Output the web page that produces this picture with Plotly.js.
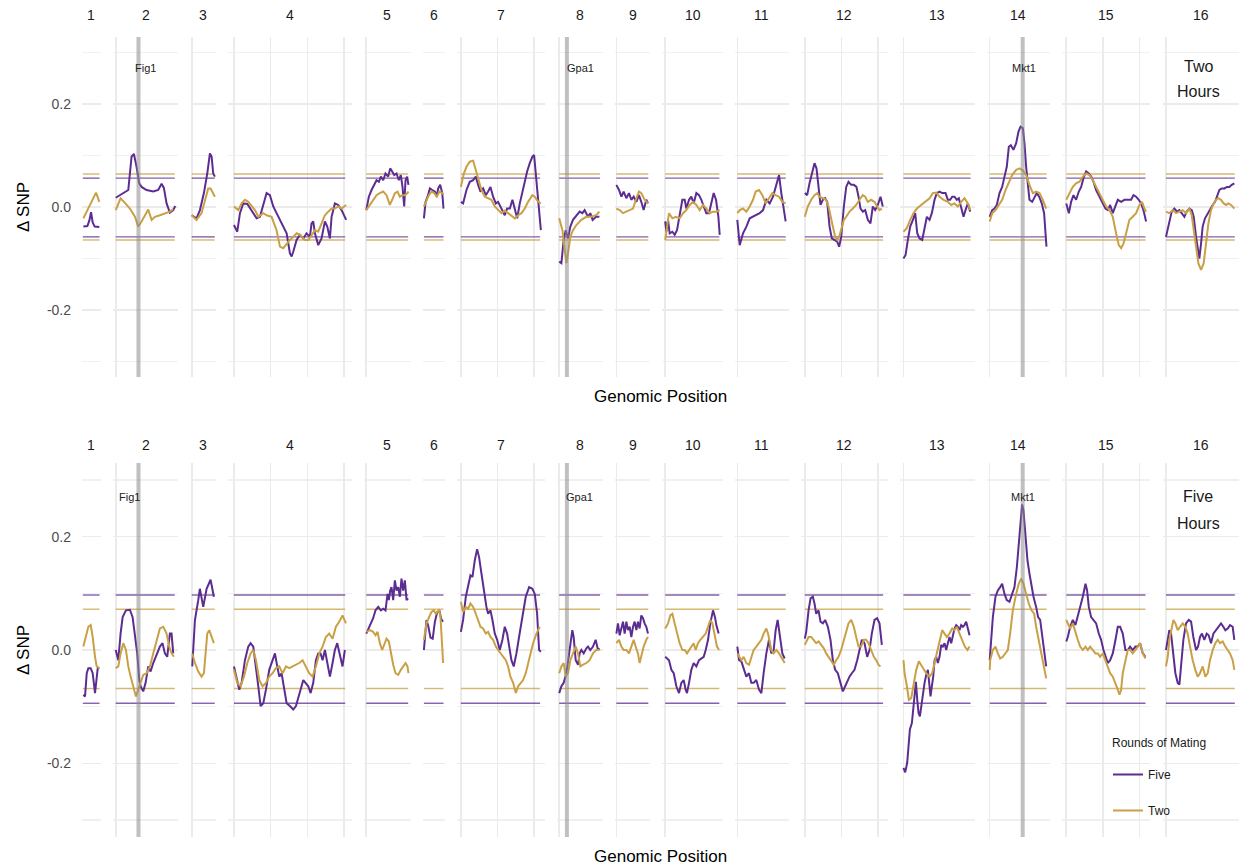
<!DOCTYPE html>
<html><head><meta charset="utf-8">
<script src="https://cdn.plot.ly/plotly-3.0.1.min.js"></script>
<style>html,body{margin:0;padding:0;background:#fff}#chart{width:1239px;height:867px}</style>
</head><body><div id="chart"></div>
<script>
// ---------------- DATA ----------------
const CHROMS = ["1","2","3","4","5","6","7","8","9","10","11","12","13","14","15","16"];
const CHROM_LEN_MB = [0.230,0.813,0.317,1.532,0.577,0.270,1.091,0.563,0.440,0.746,0.667,1.078,0.924,0.784,1.091,0.948];
const ROW_NAMES = [["Two","Hours"],["Five","Hours"]];
const SERIES_NAMES = ["Five","Two"];
const LEGEND_TITLE = "Rounds of Mating";
const GENES = ["Fig1","Gpa1","Mkt1"];
const GENE_CHROM = [2,8,14];
const GENE_POS_MB = [0.31,0.105,0.45];
const Y_TICKS = [-0.2,0,0.2];
const Y_TICK_TEXT = ["-0.2","0.0","0.2"];
// significance thresholds [upper, lower]
const THR_2H_FIVE = [0.056,-0.058];
const THR_2H_TWO  = [0.064,-0.064];
const THR_5H_FIVE = [0.097,-0.094];
const THR_5H_TWO  = [0.072,-0.068];

// Two hours, Five rounds
const H2_FIVE_POS = [
[0.007,0.062,0.089,0.112,0.134,0.162,0.225],
[0,0.103,0.171,0.216,0.248,0.284,0.32,0.352,0.42,0.511,0.579,0.625,0.656,0.693,0.738,0.784,0.811],
[0,0.066,0.112,0.166,0.212,0.248,0.271,0.293,0.316],
[0,0.045,0.082,0.127,0.182,0.241,0.309,0.354,0.4,0.445,0.49,0.536,0.581,0.627,0.672,0.718,0.763,0.786,0.808,0.854,0.899,0.945,0.99,1.035,1.058,1.081,1.104,1.149,1.194,1.24,1.272,1.308,1.331,1.376,1.421,1.467,1.53],
[0,0.035,0.072,0.108,0.14,0.172,0.199,0.231,0.262,0.299,0.326,0.353,0.381,0.412,0.444,0.471,0.494,0.517,0.535,0.557,0.575],
[0,0.023,0.05,0.082,0.114,0.15,0.173,0.195,0.222,0.25,0.268],
[0,0.03,0.076,0.121,0.167,0.203,0.235,0.267,0.303,0.339,0.371,0.403,0.439,0.476,0.507,0.553,0.598,0.63,0.667,0.703,0.735,0.767,0.803,0.839,0.871,0.903,0.939,0.975,0.998,1.021,1.053,1.09],
[0,0.03,0.061,0.089,0.12,0.152,0.188,0.234,0.279,0.316,0.347,0.393,0.424,0.456,0.502,0.548],
[0,0.036,0.068,0.099,0.136,0.172,0.204,0.236,0.272,0.308,0.34,0.372,0.408,0.431],
[0,0.016,0.039,0.061,0.098,0.129,0.161,0.198,0.234,0.266,0.288,0.325,0.356,0.388,0.425,0.461,0.493,0.525,0.561,0.597,0.629,0.661,0.693,0.725,0.743],
[0,0.033,0.078,0.124,0.169,0.214,0.26,0.305,0.351,0.396,0.441,0.487,0.532,0.569,0.6,0.632,0.659],
[0,0.032,0.064,0.096,0.132,0.159,0.187,0.214,0.246,0.277,0.305,0.337,0.368,0.405,0.441,0.468,0.496,0.532,0.564,0.595,0.632,0.668,0.704,0.732,0.759,0.791,0.823,0.859,0.895,0.927,0.959,0.995,1.032,1.063],
[0,0.029,0.06,0.092,0.129,0.16,0.188,0.219,0.256,0.287,0.319,0.356,0.387,0.424,0.455,0.492,0.528,0.574,0.605,0.637,0.665,0.696,0.728,0.755,0.787,0.819,0.846,0.878,0.91],
[0,0.034,0.065,0.097,0.134,0.17,0.202,0.233,0.261,0.288,0.324,0.361,0.392,0.42,0.452,0.474,0.497,0.52,0.542,0.579,0.61,0.642,0.674,0.71,0.742,0.774],
[0,0.035,0.066,0.098,0.134,0.171,0.203,0.234,0.271,0.307,0.339,0.371,0.407,0.452,0.498,0.534,0.566,0.598,0.634,0.671,0.702,0.748,0.793,0.838,0.884,0.916,0.952,0.988,1.02,1.052,1.088],
[0,0.046,0.078,0.114,0.151,0.183,0.214,0.251,0.282,0.319,0.351,0.378,0.41,0.432,0.455,0.478,0.5,0.532,0.569,0.605,0.637,0.669,0.696,0.728,0.76,0.796,0.832,0.864,0.896,0.932]
];
const H2_FIVE_VAL = [
[-0.038,-0.037,-0.026,-0.010,-0.030,-0.038,-0.039],
[0.018,0.028,0.033,0.098,0.103,0.078,0.046,0.039,0.033,0.030,0.033,0.045,0.037,0.007,-0.011,-0.006,0.002],
[-0.016,-0.022,-0.006,0.027,0.065,0.104,0.098,0.065,0.059],
[-0.035,-0.048,-0.012,0.007,0.006,-0.006,-0.022,-0.019,0.007,0.027,0.023,0.001,-0.012,-0.025,-0.038,-0.051,-0.090,-0.096,-0.087,-0.064,-0.054,-0.061,-0.051,-0.058,-0.032,-0.028,-0.051,-0.074,-0.061,-0.028,-0.038,-0.061,-0.019,0.007,0.004,-0.006,-0.025],
[-0.006,0.020,0.033,0.043,0.052,0.049,0.059,0.052,0.065,0.059,0.075,0.069,0.062,0.065,0.052,0.062,0.039,0.001,0.052,0.059,0.043],
[-0.022,0.010,0.020,0.036,0.033,0.030,0.020,0.036,0.043,0.027,-0.003],
[0.010,0.007,0.033,0.049,0.052,0.059,0.043,0.030,0.036,0.023,0.030,0.039,0.020,0.007,0.010,-0.003,-0.016,-0.003,-0.003,0.014,-0.003,-0.022,0.007,0.030,0.052,0.069,0.085,0.098,0.101,0.065,0.014,-0.045],
[-0.106,-0.109,-0.064,-0.045,-0.061,-0.038,-0.025,-0.017,-0.009,-0.012,-0.006,-0.019,-0.012,-0.025,-0.019,-0.019],
[0.043,0.033,0.020,0.030,0.017,0.027,0.014,0.020,0.010,0.023,0.010,-0.006,0.014,0.007],
[-0.028,-0.048,-0.025,-0.051,-0.048,-0.054,-0.045,-0.012,0.014,0.014,-0.003,0.014,0.020,0.007,0.027,0.023,0.014,0.001,-0.012,-0.012,0.010,0.027,0.014,-0.019,-0.054],
[-0.025,-0.074,-0.051,-0.038,-0.022,-0.019,-0.016,-0.012,-0.006,0.014,0.007,0.020,0.043,0.062,0.027,0.001,-0.028],
[0.027,0.023,0.046,0.065,0.085,0.075,0.033,0.004,0.014,0.017,0.010,-0.038,-0.061,-0.064,-0.067,-0.077,-0.058,0.001,0.039,0.049,0.043,0.043,0.039,0.020,-0.003,-0.009,-0.006,-0.025,-0.032,0.001,-0.006,0.004,0.020,0.001],
[-0.100,-0.093,-0.064,-0.038,-0.025,-0.012,-0.051,-0.061,-0.064,-0.038,-0.019,-0.025,-0.012,0.014,0.027,0.030,0.027,0.027,0.014,0.014,0.020,0.020,0.014,0.017,-0.003,-0.019,-0.006,0.007,-0.009],
[-0.019,-0.006,-0.003,0.004,0.027,0.039,0.059,0.078,0.117,0.120,0.111,0.124,0.146,0.156,0.153,0.124,0.078,0.039,0.014,0.010,0.020,0.027,0.020,0.007,-0.012,-0.077],
[0.007,-0.012,0.010,0.023,0.014,0.030,0.039,0.056,0.069,0.065,0.059,0.049,0.033,0.020,0.007,-0.003,-0.006,0.004,-0.012,0.004,0.014,0.010,0.014,0.014,0.014,0.023,0.020,0.014,0.007,-0.006,-0.028],
[-0.058,-0.032,-0.009,-0.003,-0.009,-0.006,-0.012,-0.019,-0.009,-0.003,-0.006,-0.019,-0.058,-0.084,-0.100,-0.071,-0.038,-0.022,-0.012,-0.003,0.004,0.010,0.020,0.033,0.036,0.036,0.039,0.039,0.043,0.046]
];

// Two hours, Two rounds
const H2_TWO_POS = [
[0.007,0.062,0.121,0.18,0.225],
[0,0.066,0.125,0.193,0.262,0.307,0.352,0.398,0.443,0.489,0.534,0.602,0.67,0.738,0.784],
[0,0.066,0.134,0.18,0.225,0.257,0.293,0.316],
[0,0.059,0.104,0.15,0.195,0.241,0.286,0.332,0.4,0.445,0.513,0.581,0.627,0.672,0.718,0.763,0.808,0.854,0.899,0.967,1.013,1.058,1.104,1.149,1.194,1.24,1.285,1.331,1.376,1.421,1.467,1.53],
[0,0.049,0.095,0.14,0.185,0.231,0.276,0.321,0.353,0.39,0.426,0.458,0.49,0.526,0.562,0.575],
[0,0.036,0.068,0.104,0.14,0.177,0.213,0.25,0.268],
[0,0.04,0.076,0.121,0.167,0.203,0.235,0.28,0.326,0.371,0.416,0.462,0.507,0.553,0.598,0.644,0.689,0.735,0.78,0.825,0.871,0.916,0.975,1.007,1.053,1.09],
[0,0.044,0.075,0.098,0.12,0.152,0.188,0.234,0.302,0.37,0.438,0.502,0.548],
[0,0.045,0.09,0.136,0.181,0.227,0.272,0.308,0.34,0.385,0.431],
[0,0.016,0.052,0.098,0.143,0.197,0.243,0.288,0.334,0.379,0.425,0.47,0.515,0.561,0.606,0.652,0.697,0.743],
[0,0.033,0.078,0.124,0.169,0.214,0.251,0.296,0.342,0.387,0.432,0.478,0.523,0.569,0.614,0.659],
[0,0.041,0.087,0.132,0.168,0.2,0.246,0.291,0.323,0.35,0.382,0.414,0.441,0.468,0.496,0.532,0.564,0.609,0.654,0.7,0.745,0.79,0.823,0.859,0.904,0.95,0.986,1.018,1.05],
[0,0.046,0.092,0.137,0.183,0.242,0.301,0.356,0.401,0.447,0.492,0.547,0.605,0.651,0.696,0.742,0.787,0.833,0.878,0.91],
[0,0.034,0.08,0.125,0.17,0.216,0.261,0.306,0.361,0.406,0.452,0.497,0.542,0.588,0.633,0.679,0.724,0.77],
[0,0.044,0.089,0.134,0.18,0.225,0.271,0.316,0.362,0.407,0.452,0.498,0.543,0.589,0.634,0.679,0.716,0.748,0.779,0.816,0.861,0.906,0.952,0.997,1.033,1.065,1.088],
[0,0.046,0.092,0.137,0.183,0.228,0.273,0.319,0.351,0.378,0.41,0.441,0.478,0.514,0.546,0.578,0.614,0.65,0.682,0.714,0.75,0.787,0.819,0.85,0.887,0.932]
];
const H2_TWO_VAL = [
[-0.022,-0.006,0.014,0.028,0.010],
[-0.006,0.017,0.008,-0.003,-0.019,-0.038,-0.028,-0.016,-0.005,-0.025,-0.019,-0.016,-0.012,-0.009,-0.004],
[-0.016,-0.025,-0.012,0.014,0.036,0.036,0.027,0.020],
[0.001,-0.006,0.007,0.014,0.010,0.001,-0.006,-0.019,-0.012,-0.016,-0.019,-0.045,-0.077,-0.080,-0.071,-0.064,-0.058,-0.051,-0.054,-0.064,-0.064,-0.054,-0.045,-0.048,-0.032,-0.016,-0.009,-0.003,-0.003,0.001,-0.003,0.004],
[-0.006,0.004,0.014,0.023,0.027,0.030,0.023,0.004,0.014,0.027,0.030,0.020,0.023,0.023,0.027,0.030],
[0.001,0.014,0.023,0.030,0.027,0.020,0.030,0.027,0.025],
[0.039,0.065,0.078,0.088,0.090,0.072,0.056,0.033,0.020,0.017,0.014,0.001,-0.006,-0.012,-0.007,-0.012,-0.016,-0.022,-0.016,-0.012,-0.003,0.010,0.023,0.020,0.010,0.007],
[-0.022,-0.045,-0.083,-0.109,-0.090,-0.058,-0.045,-0.035,-0.025,-0.019,-0.019,-0.016,-0.009],
[-0.003,-0.006,-0.012,-0.009,-0.006,-0.003,0.017,0.030,0.027,0.014,0.007],
[-0.064,-0.045,-0.012,-0.022,-0.019,-0.022,-0.012,-0.006,0.004,0.010,0.004,-0.006,0.004,-0.003,-0.012,-0.009,-0.009,-0.006],
[-0.012,-0.006,-0.003,-0.009,0.001,0.014,0.030,0.033,0.023,0.007,0.017,0.027,0.023,0.020,0.010,0.007],
[-0.019,0.001,0.014,0.023,0.027,0.020,0.017,0.014,0.001,-0.019,-0.038,-0.058,-0.064,-0.058,-0.041,-0.025,-0.019,-0.009,-0.003,0.004,0.014,0.023,0.020,0.010,0.014,0.010,0.001,-0.006,-0.003],
[-0.048,-0.041,-0.025,-0.012,-0.003,0.004,0.010,0.017,0.027,0.028,0.020,0.014,0.010,0.004,0.007,0.001,0.010,0.017,0.007,-0.006],
[-0.028,-0.012,-0.006,0.004,0.014,0.033,0.049,0.062,0.072,0.075,0.071,0.062,0.043,0.027,0.030,0.027,0.014,-0.003],
[0.014,0.027,0.039,0.046,0.049,0.059,0.065,0.062,0.052,0.039,0.027,0.014,0.001,-0.006,-0.019,-0.051,-0.074,-0.080,-0.071,-0.051,-0.025,-0.019,-0.012,0.004,0.010,-0.003,-0.009],
[-0.009,-0.012,-0.006,-0.012,-0.009,-0.006,-0.012,-0.003,-0.016,-0.045,-0.084,-0.109,-0.122,-0.109,-0.071,-0.032,-0.006,0.007,0.014,0.017,0.014,0.007,0.004,0.007,0.004,-0.003]
];

// Five hours, Five rounds
const H5_FIVE_POS = [
[0.007,0.03,0.053,0.075,0.107,0.134,0.166,0.189,0.203,0.225],
[0,0.035,0.066,0.094,0.139,0.193,0.23,0.262,0.293,0.321,0.339,0.375,0.407,0.443,0.475,0.511,0.556,0.602,0.638,0.67,0.702,0.738,0.761,0.784],
[0.007,0.044,0.089,0.111,0.157,0.203,0.257,0.302],
[0,0.036,0.073,0.104,0.15,0.195,0.227,0.263,0.3,0.332,0.363,0.4,0.436,0.481,0.527,0.559,0.59,0.618,0.649,0.681,0.718,0.763,0.808,0.845,0.876,0.908,0.945,0.981,1.013,1.045,1.081,1.117,1.149,1.181,1.208,1.24,1.272,1.308,1.344,1.376,1.408,1.444,1.48,1.512],
[0,0.035,0.063,0.094,0.126,0.163,0.199,0.231,0.262,0.29,0.308,0.326,0.344,0.367,0.39,0.412,0.435,0.458,0.48,0.503,0.526,0.549,0.571],
[0,0.02,0.035,0.06,0.09,0.12,0.15,0.18,0.21,0.235,0.26],
[0,0.03,0.067,0.099,0.13,0.158,0.189,0.221,0.248,0.28,0.312,0.348,0.371,0.403,0.43,0.462,0.494,0.53,0.566,0.598,0.63,0.657,0.689,0.72,0.757,0.793,0.839,0.884,0.93,0.975,1.007,1.039,1.066,1.09],
[0,0.03,0.061,0.098,0.129,0.152,0.179,0.197,0.225,0.257,0.279,0.302,0.334,0.37,0.393,0.424,0.461,0.497,0.529,0.55],
[0,0.022,0.045,0.068,0.09,0.113,0.136,0.158,0.181,0.204,0.227,0.249,0.272,0.294,0.317,0.34,0.363,0.385,0.408,0.431],
[0,0.025,0.052,0.084,0.116,0.152,0.188,0.22,0.252,0.279,0.297,0.325,0.356,0.388,0.425,0.461,0.493,0.525,0.552,0.584,0.615,0.652,0.679,0.697,0.729],
[0,0.024,0.055,0.087,0.123,0.16,0.191,0.223,0.259,0.296,0.328,0.359,0.396,0.432,0.464,0.496,0.523,0.55,0.577,0.614,0.646],
[0,0.019,0.051,0.078,0.109,0.132,0.155,0.187,0.214,0.246,0.277,0.314,0.35,0.382,0.414,0.45,0.486,0.518,0.55,0.577,0.609,0.641,0.677,0.714,0.745,0.777,0.814,0.85,0.882,0.913,0.95,0.986,1.018,1.05],
[0,0.006,0.024,0.051,0.069,0.088,0.115,0.133,0.151,0.17,0.188,0.206,0.224,0.242,0.265,0.288,0.31,0.333,0.351,0.369,0.387,0.406,0.424,0.447,0.469,0.492,0.515,0.537,0.56,0.583,0.605,0.628,0.651,0.674,0.696,0.719,0.742,0.764,0.787,0.81,0.832,0.855,0.878,0.901],
[0,0.01,0.02,0.043,0.079,0.111,0.143,0.17,0.202,0.233,0.27,0.306,0.338,0.37,0.397,0.424,0.442,0.461,0.488,0.515,0.542,0.57,0.597,0.633,0.66,0.688,0.715,0.747,0.77],
[0,0.021,0.053,0.089,0.125,0.157,0.189,0.225,0.262,0.284,0.307,0.339,0.371,0.407,0.443,0.475,0.507,0.534,0.566,0.598,0.634,0.671,0.702,0.734,0.77,0.806,0.838,0.87,0.906,0.943,0.974,1.006,1.043,1.079],
[0,0.024,0.046,0.069,0.101,0.128,0.16,0.183,0.205,0.237,0.273,0.31,0.342,0.373,0.41,0.437,0.464,0.491,0.523,0.555,0.582,0.614,0.646,0.682,0.718,0.75,0.782,0.809,0.841,0.873,0.909,0.932]
];
const H5_FIVE_VAL = [
[-0.079,-0.082,-0.041,-0.032,-0.032,-0.041,-0.076,-0.053,-0.032,-0.032],
[0.0,-0.018,0.029,0.058,0.070,0.071,0.058,0.029,-0.006,-0.053,-0.064,-0.073,-0.058,-0.029,-0.038,-0.023,-0.009,0.006,0.012,-0.006,-0.012,0.029,0.029,-0.006],
[-0.029,0.053,0.088,0.108,0.076,0.108,0.124,0.094],
[-0.029,-0.047,-0.070,-0.058,-0.018,0.006,0.012,0.006,-0.029,-0.064,-0.099,-0.094,-0.070,-0.035,-0.018,-0.006,-0.029,-0.047,-0.041,-0.064,-0.094,-0.099,-0.105,-0.099,-0.082,-0.070,-0.053,-0.058,-0.064,-0.076,-0.058,-0.018,-0.006,-0.006,-0.018,0.0,-0.023,-0.047,-0.023,0.0,0.012,-0.006,-0.029,0.0],
[0.029,0.038,0.047,0.056,0.070,0.076,0.070,0.073,0.070,0.099,0.088,0.105,0.111,0.088,0.123,0.105,0.111,0.094,0.126,0.105,0.123,0.088,0.091],
[0.0,0.030,0.053,0.042,0.022,0.020,0.050,0.066,0.070,0.055,0.050],
[0.032,0.053,0.094,0.117,0.132,0.129,0.158,0.178,0.164,0.135,0.105,0.076,0.064,0.070,0.053,0.029,0.018,0.0,0.018,0.041,0.029,0.006,-0.018,-0.029,-0.006,0.023,0.058,0.094,0.111,0.108,0.099,0.064,0.0,-0.003],
[-0.076,-0.064,-0.058,-0.041,-0.012,0.006,0.035,0.023,-0.018,-0.026,-0.006,0.0,-0.006,0.003,0.006,0.0,0.006,0.018,0.0,0.003],
[0.029,0.047,0.026,0.038,0.050,0.029,0.050,0.035,0.041,0.023,0.041,0.050,0.035,0.050,0.038,0.061,0.056,0.047,0.041,0.029],
[-0.012,-0.015,-0.018,-0.035,-0.041,-0.064,-0.076,-0.058,-0.053,-0.070,-0.076,-0.058,-0.035,-0.023,-0.029,-0.018,-0.015,-0.012,0.0,0.018,0.047,0.070,0.058,0.044,0.029],
[0.006,-0.018,-0.020,-0.032,-0.047,-0.041,-0.058,-0.058,-0.053,-0.070,-0.076,-0.041,-0.006,0.018,-0.006,0.0,0.035,0.053,0.029,-0.006,-0.015],
[0.020,0.032,0.070,0.091,0.094,0.082,0.064,0.070,0.050,0.047,0.053,0.041,0.018,-0.018,-0.035,-0.041,-0.058,-0.073,-0.064,-0.056,-0.047,-0.041,-0.035,-0.018,0.0,0.018,0.012,-0.012,0.0,0.029,0.053,0.056,0.047,0.009],
[-0.208,-0.211,-0.216,-0.199,-0.170,-0.140,-0.129,-0.105,-0.070,-0.056,-0.088,-0.111,-0.117,-0.099,-0.076,-0.058,-0.044,-0.035,-0.058,-0.082,-0.064,-0.047,-0.018,-0.012,-0.023,-0.012,0.009,0.006,0.012,0.0,0.012,0.023,0.012,0.029,0.038,0.044,0.041,0.035,0.044,0.041,0.044,0.050,0.038,0.026],
[-0.018,0.0,0.029,0.058,0.094,0.105,0.111,0.117,0.099,0.088,0.085,0.099,0.111,0.146,0.193,0.234,0.257,0.246,0.205,0.158,0.135,0.111,0.094,0.076,0.058,0.053,0.023,-0.006,-0.029],
[0.015,0.023,0.041,0.053,0.044,0.058,0.076,0.094,0.117,0.105,0.076,0.058,0.053,0.047,0.029,0.018,0.0,-0.012,-0.023,-0.018,-0.006,0.018,0.041,0.041,0.029,0.0,0.0,0.006,0.0,0.006,0.006,0.012,-0.006,-0.012],
[0.0,0.018,0.035,0.029,-0.006,-0.041,-0.058,-0.061,-0.029,0.018,0.047,0.053,0.050,0.023,0.0,0.006,0.023,0.029,0.018,0.029,0.026,0.012,0.029,0.035,0.041,0.047,0.041,0.035,0.038,0.044,0.041,0.018]
];

// Five hours, Two rounds
const H5_TWO_POS = [
[0.007,0.044,0.075,0.107,0.134,0.166,0.189,0.225],
[0,0.035,0.066,0.103,0.139,0.171,0.203,0.239,0.275,0.307,0.339,0.375,0.421,0.466,0.511,0.557,0.602,0.648,0.693,0.729,0.761,0.793],
[0.007,0.044,0.089,0.134,0.166,0.193,0.212,0.239,0.271,0.302],
[0,0.045,0.091,0.136,0.182,0.227,0.263,0.3,0.345,0.39,0.436,0.481,0.527,0.572,0.618,0.663,0.709,0.754,0.799,0.845,0.89,0.936,0.981,1.026,1.072,1.117,1.163,1.208,1.253,1.299,1.344,1.39,1.435,1.48,1.526],
[0,0.049,0.094,0.126,0.154,0.185,0.217,0.244,0.276,0.308,0.335,0.367,0.399,0.435,0.471,0.503,0.535,0.562,0.575],
[0,0.035,0.071,0.103,0.135,0.162,0.18,0.208,0.226,0.244,0.262],
[0,0.03,0.067,0.099,0.13,0.167,0.203,0.235,0.267,0.303,0.339,0.371,0.403,0.439,0.476,0.507,0.539,0.575,0.612,0.644,0.675,0.712,0.748,0.78,0.812,0.848,0.884,0.916,0.948,0.984,1.03,1.075],
[0,0.03,0.061,0.089,0.12,0.152,0.188,0.225,0.257,0.288,0.325,0.37,0.415,0.461,0.506,0.55],
[0,0.036,0.068,0.099,0.136,0.172,0.204,0.236,0.263,0.294,0.317,0.345,0.372,0.408,0.431],
[0,0.039,0.07,0.098,0.129,0.161,0.197,0.234,0.266,0.297,0.325,0.356,0.388,0.415,0.447,0.479,0.515,0.552,0.584,0.615,0.643,0.675,0.706,0.734],
[0,0.024,0.055,0.087,0.123,0.16,0.191,0.223,0.259,0.296,0.328,0.359,0.396,0.419,0.441,0.464,0.496,0.532,0.569,0.6,0.646],
[0,0.019,0.051,0.087,0.123,0.155,0.187,0.223,0.259,0.291,0.323,0.359,0.395,0.427,0.459,0.495,0.532,0.564,0.595,0.632,0.668,0.7,0.732,0.768,0.804,0.836,0.868,0.904,0.941,0.973,1.004,1.031],
[0,0.015,0.047,0.074,0.106,0.138,0.174,0.21,0.242,0.274,0.31,0.356,0.392,0.424,0.455,0.492,0.528,0.56,0.592,0.628,0.664,0.696,0.728,0.764,0.8,0.837,0.873,0.901],
[0,0.007,0.043,0.079,0.111,0.143,0.179,0.215,0.247,0.279,0.315,0.361,0.397,0.429,0.461,0.497,0.533,0.57,0.606,0.633,0.67,0.706,0.743,0.77],
[0,0.021,0.053,0.089,0.125,0.157,0.189,0.225,0.262,0.293,0.325,0.362,0.398,0.43,0.461,0.498,0.534,0.566,0.598,0.634,0.671,0.702,0.725,0.748,0.77,0.806,0.838,0.87,0.906,0.943,0.974,1.006,1.043,1.079],
[0,0.024,0.046,0.069,0.101,0.128,0.16,0.192,0.228,0.264,0.296,0.328,0.364,0.4,0.432,0.464,0.5,0.537,0.569,0.6,0.637,0.673,0.705,0.737,0.773,0.809,0.841,0.873,0.909,0.932]
];
const H5_TWO_VAL = [
[0.006,0.023,0.041,0.044,0.023,-0.012,-0.029,-0.032],
[-0.032,-0.029,-0.006,0.012,0.0,-0.029,-0.047,-0.064,-0.082,-0.070,-0.058,-0.044,-0.041,-0.029,-0.006,0.018,0.038,0.041,0.029,0.006,-0.006,-0.012],
[-0.006,-0.023,-0.038,-0.047,-0.041,0.006,0.029,0.035,0.023,0.012],
[-0.035,-0.058,-0.064,-0.047,-0.023,-0.006,0.0,-0.018,-0.053,-0.064,-0.058,-0.047,-0.041,-0.032,-0.029,-0.041,-0.029,-0.032,-0.029,-0.026,-0.023,-0.018,-0.029,-0.041,-0.047,-0.029,-0.006,0.006,0.023,0.029,0.020,0.041,0.050,0.061,0.047],
[0.032,0.035,0.032,0.026,0.032,0.012,0.0,0.009,0.020,0.015,-0.006,-0.026,-0.041,-0.044,-0.035,-0.029,-0.023,-0.029,-0.041],
[0.018,0.047,0.058,0.067,0.070,0.064,0.067,0.070,0.058,0.023,-0.023],
[0.085,0.067,0.076,0.073,0.082,0.076,0.064,0.053,0.041,0.038,0.029,0.032,0.023,0.018,0.006,0.0,-0.006,-0.012,-0.018,-0.029,-0.047,-0.058,-0.076,-0.064,-0.058,-0.053,-0.041,-0.023,-0.006,0.012,0.029,0.041],
[-0.041,-0.029,-0.023,-0.047,-0.041,-0.018,-0.006,0.006,-0.006,-0.029,-0.026,-0.023,-0.018,-0.006,0.0,0.0],
[0.012,0.018,0.006,0.0,0.0,-0.006,0.006,0.018,0.006,-0.006,-0.023,-0.006,0.006,0.018,0.023],
[0.038,0.047,0.061,0.064,0.047,0.029,0.012,0.0,0.0,-0.006,0.0,0.006,0.012,0.0,0.012,0.018,0.023,0.029,0.041,0.053,0.047,0.023,0.006,0.0],
[-0.006,-0.012,-0.018,-0.012,-0.023,-0.026,-0.012,0.0,0.006,0.012,0.018,0.029,0.038,0.029,0.012,0.0,-0.006,0.0,-0.006,-0.012,-0.023],
[0.009,0.015,0.023,0.023,0.018,0.012,0.015,0.009,0.003,-0.006,-0.012,-0.020,-0.026,-0.018,-0.012,0.0,0.018,0.035,0.047,0.053,0.041,0.023,0.006,0.006,0.018,0.018,0.012,0.0,-0.012,-0.018,-0.026,-0.029],
[-0.018,-0.041,-0.064,-0.088,-0.085,-0.058,-0.035,-0.020,-0.026,-0.032,-0.041,-0.047,-0.041,-0.023,-0.006,0.018,0.035,0.029,0.023,0.029,0.038,0.035,0.041,0.029,0.018,0.006,0.0,0.006],
[-0.035,-0.018,0.0,0.006,-0.006,-0.015,-0.012,-0.006,0.0,0.029,0.070,0.099,0.117,0.126,0.117,0.099,0.082,0.070,0.064,0.041,0.018,-0.006,-0.029,-0.050],
[0.053,0.047,0.038,0.047,0.029,0.018,0.006,0.0,0.006,0.0,0.006,0.0,-0.006,-0.006,-0.012,-0.006,-0.018,-0.029,-0.041,-0.047,-0.058,-0.070,-0.079,-0.070,-0.041,-0.018,0.0,0.0,-0.006,0.0,0.006,0.012,-0.006,-0.015],
[-0.029,-0.012,0.018,0.035,0.053,0.047,0.035,0.041,0.047,0.041,0.029,0.006,-0.018,-0.035,-0.047,-0.041,-0.029,-0.047,-0.041,-0.018,0.0,0.012,0.018,0.012,0.015,0.006,0.0,-0.006,-0.018,-0.035]
];

// ---------------- LAYOUT / DRAWING ----------------
const FONT = "Liberation Sans, Arial, Helvetica, sans-serif";
const PURPLE = "#5c2d91", GOLD = "#c9a046";
const W = 1239, H = 867, ML = 82, MR = 0, MT = 37, MBOT = 30;
const plotW = W - ML - MR, plotH = H - MT - MBOT;
const GAP_PX = 12.2;
const gapF = GAP_PX / plotW;
const totalL = CHROM_LEN_MB.reduce((a, b) => a + b, 0);
const avail = 1 - gapF * (CHROM_LEN_MB.length - 1);
const domains = [];
let acc = 0;
CHROM_LEN_MB.forEach(L => { const w = avail * L / totalL; domains.push([acc, Math.min(1, acc + w)]); acc += w + gapF; });

// pixel -> paper helpers
const py = p => (H - MBOT - p) / plotH;
const px = p => (p - ML) / plotW;
const ROW_DOMAINS = [[py(377), 1], [0, py(463)]];
const Y_RANGE = [-0.33, 0.33];

const rows = [
  { five: [H2_FIVE_POS, H2_FIVE_VAL], two: [H2_TWO_POS, H2_TWO_VAL], thrFive: THR_2H_FIVE, thrTwo: THR_2H_TWO, yax: "y" },
  { five: [H5_FIVE_POS, H5_FIVE_VAL], two: [H5_TWO_POS, H5_TWO_VAL], thrFive: THR_5H_FIVE, thrTwo: THR_5H_TWO, yax: "y2" }
];

function xName(n) { return n === 1 ? "x" : "x" + n; }
function xKey(n) { return n === 1 ? "xaxis" : "xaxis" + n; }

const traces = [];
const layout = {
  width: W, height: H,
  margin: { l: ML, r: MR, t: MT, b: MBOT },
  paper_bgcolor: "#ffffff", plot_bgcolor: "rgba(0,0,0,0)",
  font: { family: FONT, color: "#1a1a1a" },
  showlegend: true,
  legend: {
    x: px(1108), xanchor: "left", y: py(760), yanchor: "top",
    bgcolor: "rgba(0,0,0,0)", traceorder: "grouped", tracegroupgap: 17,
    font: { size: 12, color: "#1a1a1a", family: FONT }
  },
  annotations: [], shapes: []
};
// legend title
layout.annotations.push({ xref: "paper", yref: "paper", x: px(1110), y: py(743), xanchor: "left", yanchor: "middle",
  text: LEGEND_TITLE, showarrow: false, font: { size: 12, color: "#1a1a1a", family: FONT } });

const gridColor = "#ebebeb";
[0, 1].forEach(r => {
  const yk = r === 0 ? "yaxis" : "yaxis2";
  layout[yk] = {
    domain: ROW_DOMAINS[r], range: Y_RANGE, anchor: xName(r * 16 + 1),
    tickmode: "array", tickvals: Y_TICKS, ticktext: Y_TICK_TEXT,
    tickfont: { size: 14, color: "#4d4d4d", family: FONT },
    showgrid: true, gridcolor: gridColor, gridwidth: 1.6, zeroline: false, showline: false, ticks: "",
    minor: { tickvals: [-0.3, -0.1, 0.1, 0.3], showgrid: true, gridcolor: "#f0f0f0", gridwidth: 1.2, ticks: "" },
    ticklabelstandoff: 10,
    title: { text: "Δ SNP", font: { size: 17, color: "#000", family: FONT }, standoff: 12 },
    fixedrange: true
  };
  CHROM_LEN_MB.forEach((L, i) => {
    const n = r * 16 + i + 1;
    const ticks = [0, 0.5, 1, 1.5].filter(v => L >= 1 ? v <= L : v === 0);
    layout[xKey(n)] = {
      domain: domains[i], range: [-0.05 * L, 1.05 * L], anchor: rows[r].yax,
      tickmode: "array", tickvals: ticks, showticklabels: false, ticks: "",
      showgrid: true, gridcolor: gridColor, gridwidth: 1.6, zeroline: false, showline: false, fixedrange: true
    };
    const xa = xName(n), ya = rows[r].yax;
    // thresholds
    [["thrFive", PURPLE], ["thrTwo", GOLD]].forEach(([k, col]) => {
      const t = rows[r][k];
      traces.push({ type: "scatter", mode: "lines", xaxis: xa, yaxis: ya, hoverinfo: "skip", showlegend: false,
        x: [0, L * 0.99, null, 0, L * 0.99], y: [t[0], t[0], null, t[1], t[1]],
        line: { color: col, width: 1.4 }, opacity: 0.75 });
    });
    // data lines
    [["five", PURPLE, SERIES_NAMES[0]], ["two", GOLD, SERIES_NAMES[1]]].forEach(([k, col, nm]) => {
      const d = rows[r][k];
      traces.push({ type: "scatter", mode: "lines", xaxis: xa, yaxis: ya, hoverinfo: "skip",
        name: nm, legendgroup: nm, showlegend: (r === 1 && i === 0),
        x: d[0][i], y: d[1][i], line: { color: col, width: 2 } });
    });
    // chromosome strip label
    layout.annotations.push({ xref: xa + " domain", yref: "paper", x: 0.5, y: r === 0 ? py(15) : py(445),
      text: CHROMS[i], showarrow: false, font: { size: 14, color: "#1a1a1a", family: FONT }, xanchor: "center", yanchor: "middle" });
  });
  // gene bands + labels
  const labelShift = r === 0 ? [7, 14, 1] : [-9, 13, 0];
  GENES.forEach((g, gi) => {
    const n = r * 16 + GENE_CHROM[gi];
    const xa = xName(n);
    layout.shapes.push({ type: "line", xref: xa, yref: rows[r].yax + " domain", x0: GENE_POS_MB[gi], x1: GENE_POS_MB[gi], y0: 0, y1: 1,
      line: { color: "rgba(140,140,140,0.55)", width: 4 }, layer: "above" });
    layout.annotations.push({ xref: xa, yref: rows[r].yax, x: GENE_POS_MB[gi], y: 0.27, xshift: labelShift[gi],
      text: g, showarrow: false, font: { size: 11, color: "#222", family: FONT }, xanchor: "center", yanchor: "middle" });
  });
  // row label in last panel (two lines)
  const lineY = r === 0 ? [67, 92] : [497, 523];
  ROW_NAMES[r].forEach((t, li) => {
    layout.annotations.push({ xref: xName(r * 16 + 16) + " domain", yref: "paper", x: 0.47, y: py(lineY[li]),
      text: t, showarrow: false, font: { size: 16, color: "#1a1a1a", family: FONT }, xanchor: "center", yanchor: "middle" });
  });
  // x-axis title
  layout.annotations.push({ xref: "paper", yref: "paper", x: px(660), y: r === 0 ? py(396) : py(856),
    text: "Genomic Position", showarrow: false, font: { size: 17, color: "#000", family: FONT }, xanchor: "center", yanchor: "middle" });
});

Plotly.newPlot("chart", traces, layout, { staticPlot: true, displayModeBar: false });
</script>
</body></html>
